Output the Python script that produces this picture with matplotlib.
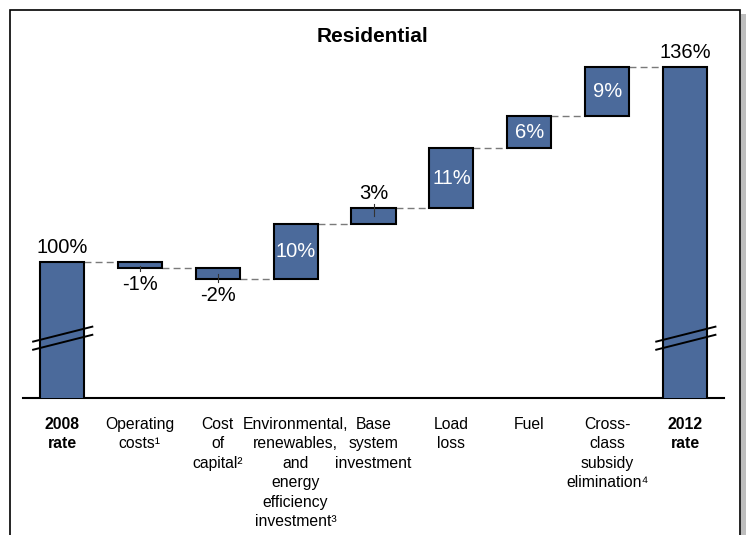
import matplotlib.pyplot as plt
from matplotlib.patches import Rectangle

plt.rcParams['font.family'] = ['Liberation Sans', 'DejaVu Sans']

# Rate drivers, 2008 -> 2012 (percent of 2008 rate)
categories = ['2008\nrate', 'Operating\ncosts¹', 'Cost\nof\ncapital²',
              'Environmental,\nrenewables,\nand\nenergy\nefficiency\ninvestment³',
              'Base\nsystem\ninvestment', 'Load\nloss', 'Fuel',
              'Cross-\nclass\nsubsidy\nelimination⁴', '2012\nrate']
start_rate = 100
changes = [-1, -2, 10, 3, 11, 6, 9]
end_rate = 136

bar_color = '#4B6A9B'
W, H = 746, 535

fig = plt.figure(figsize=(W / 100, H / 100), dpi=100)
ax = fig.add_axes([23 / W, (H - 398) / H, (724 - 23) / W, (398 - 40) / H])
ax.patch.set_visible(False)

# floating segments
bottoms, heights = [0], [start_rate]
level = start_rate
for c in changes:
    bottoms.append(level + min(c, 0))
    heights.append(abs(c))
    level += c
bottoms.append(0)
heights.append(end_rate)

x = list(range(len(categories)))
bw = 0.565
ax.bar(x, heights, bottom=bottoms, width=bw, color=bar_color,
       edgecolor='black', linewidth=1.5, zorder=3)

# dashed connectors between consecutive bars
tops = [start_rate]
level = start_rate
for c in changes:
    level += c
    tops.append(level)
for i, lv in enumerate(tops):
    ax.plot([i + bw / 2, i + 1 - bw / 2], [lv, lv], color='#7A7A7A',
            lw=1, ls=(0, (5, 3)), zorder=2)

# value labels
ax.annotate(f'{start_rate}%', (0, start_rate), xytext=(0, 4),
            textcoords='offset points', ha='center', va='bottom', fontsize=14.5)
ax.annotate(f'{end_rate}%', (len(x) - 1, end_rate), xytext=(0, 4),
            textcoords='offset points', ha='center', va='bottom', fontsize=14.5)
for i, c in enumerate(changes, start=1):
    b, h = bottoms[i], heights[i]
    if c < 0:
        ax.annotate(f'{c}%', (i, b), xytext=(0, -5), textcoords='offset points',
                    ha='center', va='top', fontsize=14.5)
        ax.plot([i, i], [b + h / 2 - 0.2, b - 0.6], color='#333333', lw=0.8,
                zorder=4)
    elif h < 5:
        ax.annotate(f'{c}%', (i, b + h), xytext=(0, 4),
                    textcoords='offset points', ha='center', va='bottom',
                    fontsize=14.5)
        ax.plot([i, i], [b + h + 0.7, b + 1.5], color='#333333', lw=0.8,
                zorder=4)
    else:
        ax.text(i, b + h / 2, f'{c}%', ha='center', va='center',
                color='white', fontsize=14.5, zorder=4)

# axis break marks on the total bars
for i in (0, len(x) - 1):
    for y0 in (83.9, 85.4):
        ax.plot([i - 0.37, i + 0.39], [y0, y0 + 2.75], color='black', lw=1.4,
                zorder=5, clip_on=False)

ax.set_xlim(-0.5, 8.5)
ax.set_ylim(75, 141)
ax.set_yticks([])
ax.set_xticks(x)
ax.set_xticklabels(categories, fontsize=11.3, linespacing=1.37)
for lab in (ax.get_xticklabels()[0], ax.get_xticklabels()[-1]):
    lab.set_fontweight('bold')
ax.tick_params(axis='x', length=0, pad=13.5)
for s in ('left', 'right', 'top'):
    ax.spines[s].set_visible(False)
ax.spines['bottom'].set_linewidth(1.5)

fig.text(373 / W, 1 - 36 / H, 'Residential', ha='center', va='center',
         fontsize=15, fontweight='bold')

# framed panel with a soft shadow
fig.add_artist(Rectangle((741 / W, -0.1), 5 / W, 1 - 14 / H + 0.1,
                         transform=fig.transFigure, facecolor='#BDBDBD',
                         edgecolor='none', zorder=-2))
fig.add_artist(Rectangle((10 / W, -0.1), 730 / W, 1 - 10 / H + 0.1,
                         transform=fig.transFigure, facecolor='white',
                         edgecolor='black', lw=1.2, zorder=-1))

fig.savefig('out.png', dpi=100)
